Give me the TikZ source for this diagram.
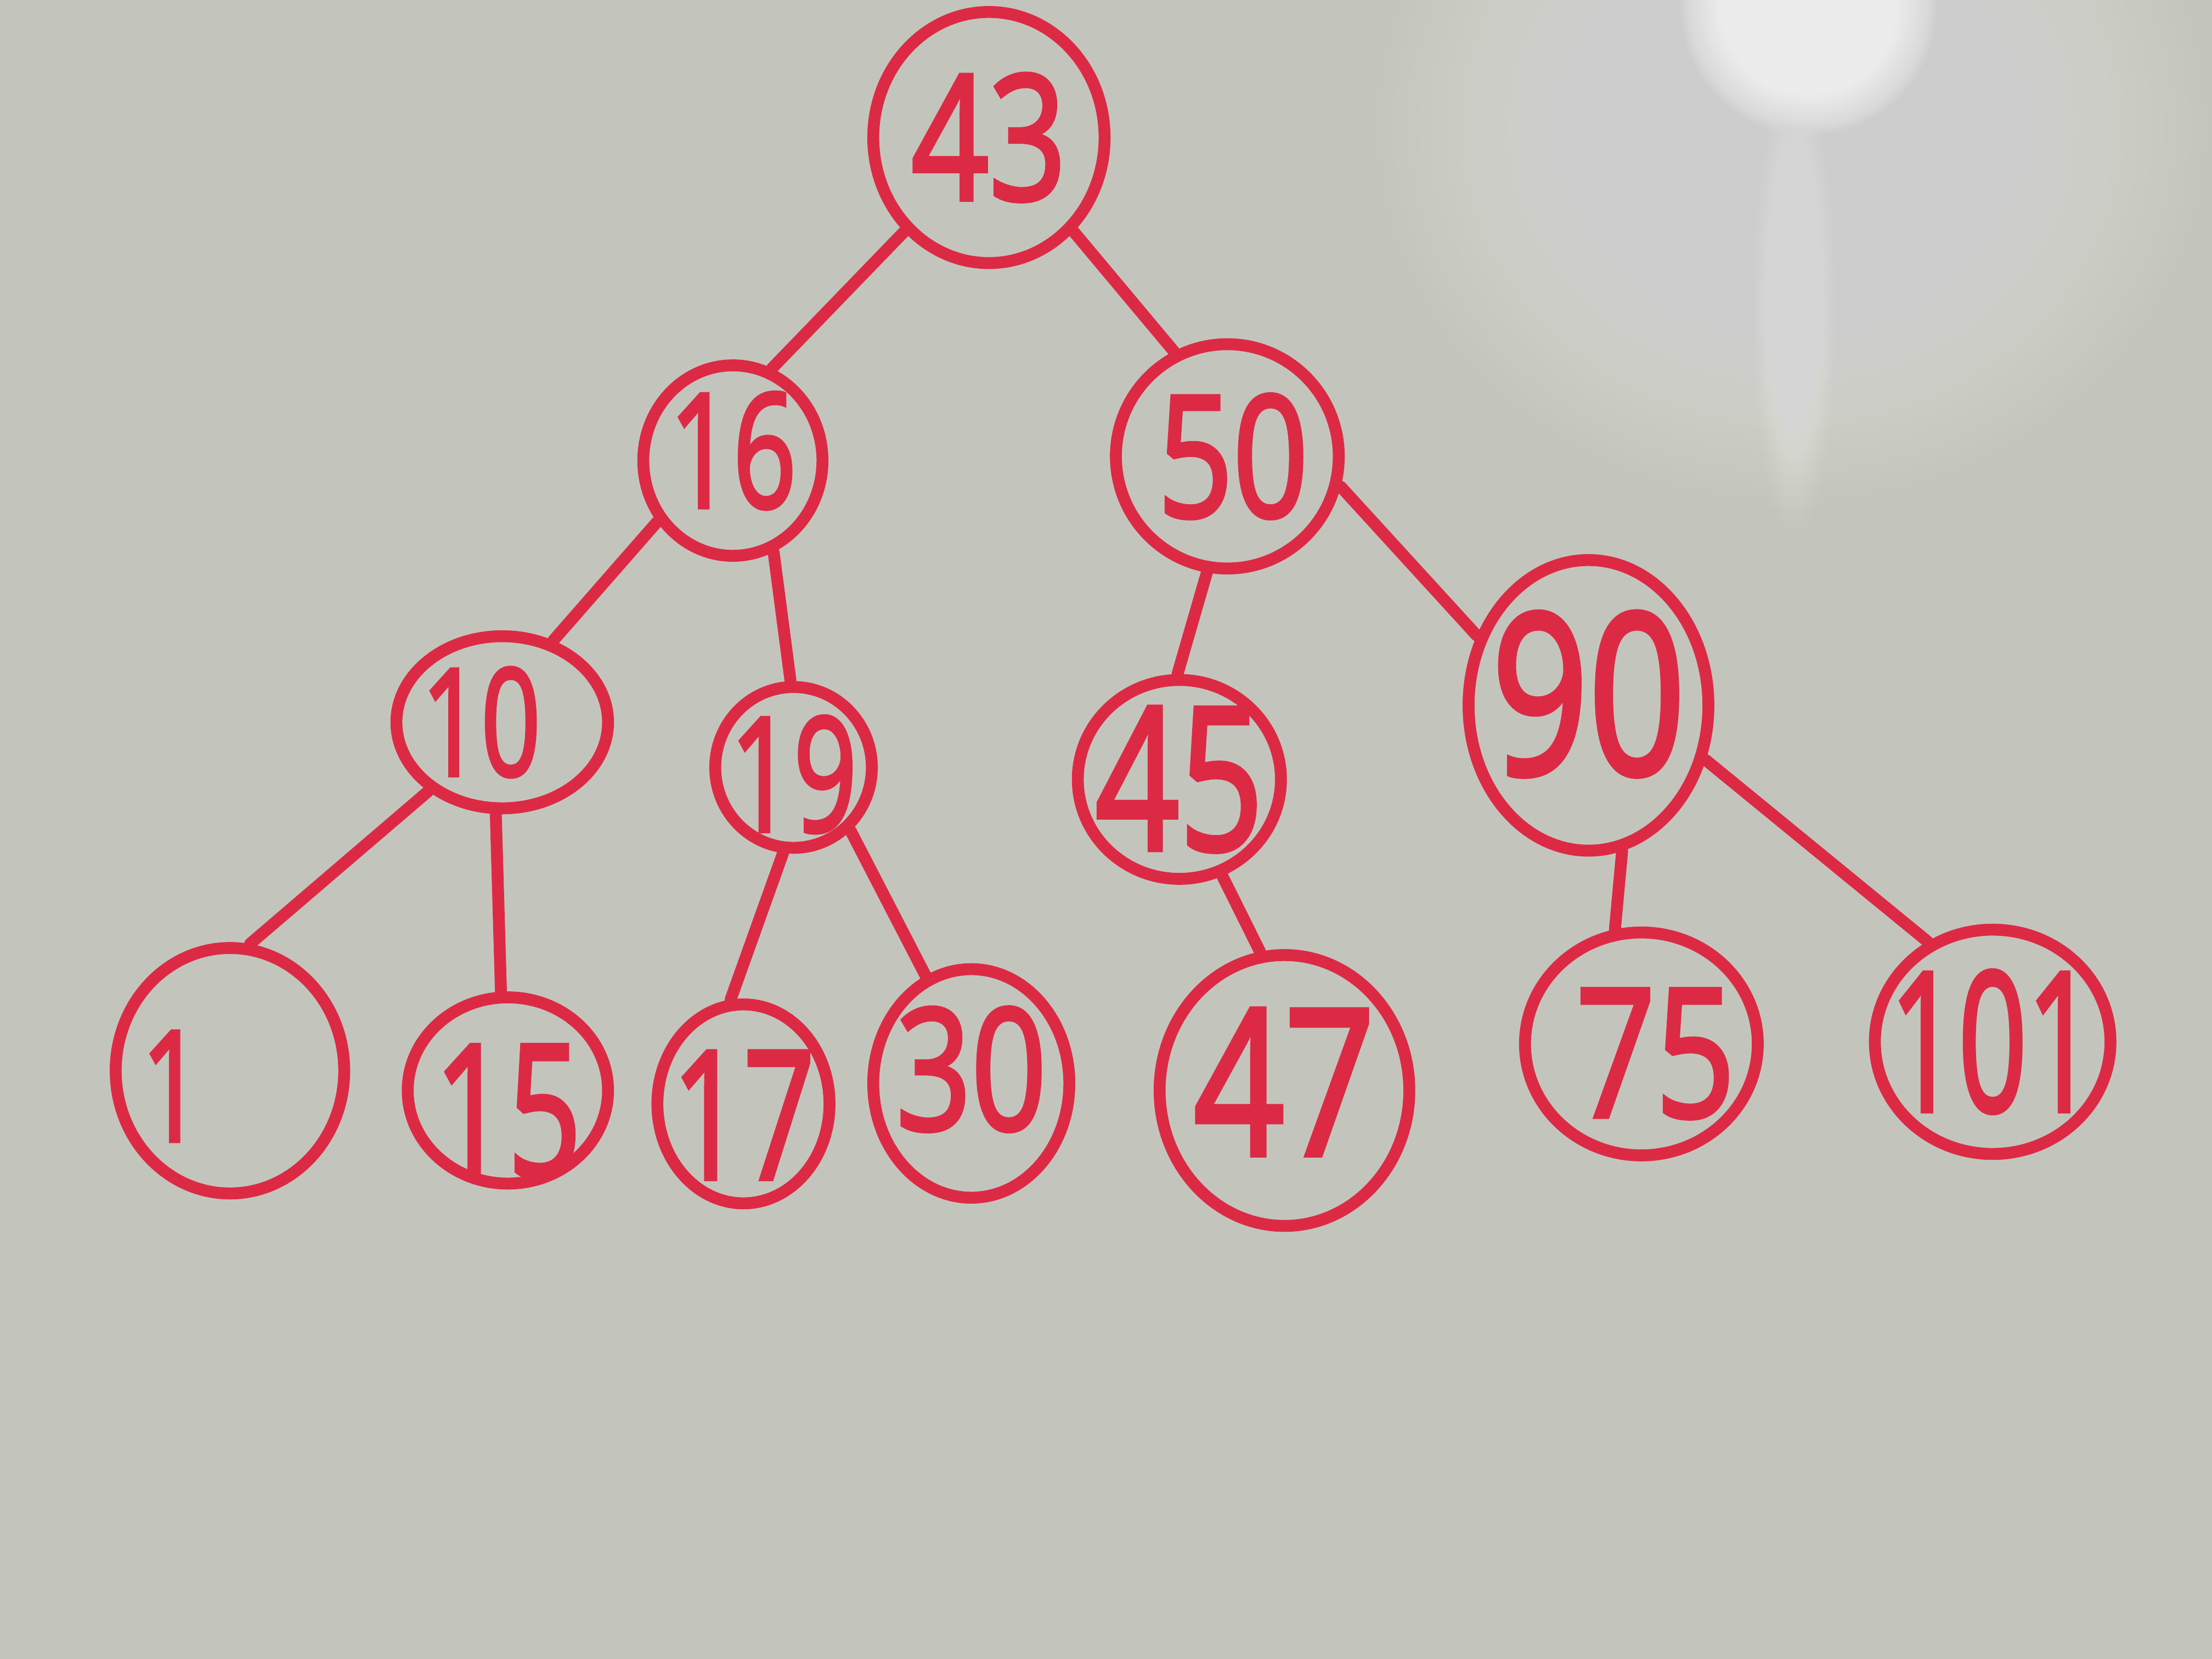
\documentclass[tikz,border=0pt]{standalone}
\usepackage{fontspec}
\setmainfont{Open Sans}
\newfontfamily\markerfont[FakeBold=2.6]{Open Sans}
\usepackage{graphicx}
\usetikzlibrary{shapes.geometric}

\definecolor{marker}{RGB}{221,42,68}
\definecolor{board}{RGB}{195,197,189}

% handwritten-looking figures: narrower than the font's own
\newcommand\hw[2][0.78]{\scalebox{#1}[1]{#2}}
\newcommand\sz[1]{\markerfont\fontsize{#1}{#1}\selectfont}

\tikzset{
  vtx/.style={ellipse, draw=marker, line width=2.4pt, inner sep=0pt},
  num/.style={text=marker, inner sep=0pt},
  edge/.style={draw=marker, line width=2.4pt, line cap=round},
}

\begin{document}
\begin{tikzpicture}
  % whiteboard surface, a little brighter in the middle
  \fill[board] (0,0) rectangle (15.68,-11.76);
  \useasboundingbox (0,0) rectangle (15.68,-11.76);
  \foreach \r in {1,...,30}
    \fill[white, opacity=0.012] (9.5,-4.0) ellipse ({\r*0.36} and {\r*0.26});
  % reflection of the ceiling light
  \foreach \r in {1,...,30}
    \fill[white, opacity=0.02] (12.7,-0.9) ellipse ({0.3+\r*0.09} and {0.3+\r*0.08});
  \foreach \r in {1,...,30}
    \fill[white, opacity=0.05] (12.82,-0.05) ellipse ({0.55+\r*0.012} and {0.55+\r*0.012});
  \foreach \r in {1,...,20}
    \fill[white, opacity=0.025] (12.72,-2.2) ellipse ({0.05+\r*0.012} and {0.6+\r*0.05});

  % root
  \node[vtx, minimum width=1.64cm, minimum height=1.78cm,
        label={[num, font=\sz{35}]center:\hw{43}}] (n43) at (7.01,-0.975) {};
  % second level
  \node[vtx, minimum width=1.27cm, minimum height=1.35cm,
        label={[num, font=\sz{32}, yshift=0.07cm]center:\hw[0.7]{16}}] (n16) at (5.195,-3.265) {};
  \node[vtx, minimum width=1.58cm, minimum height=1.59cm,
        label={[num, font=\sz{34}, xshift=0.04cm]center:\hw{50}}] (n50) at (8.70,-3.235) {};
  % third level
  \node[vtx, minimum width=1.50cm, minimum height=1.22cm,
        label={[num, font=\sz{30}, xshift=-0.15cm]center:\hw[0.7]{10}}] (n10) at (3.56,-5.12) {};
  \node[vtx, minimum width=1.11cm, minimum height=1.14cm,
        label={[num, font=\sz{32}, yshift=-0.05cm]center:\hw[0.7]{19}}] (n19) at (5.625,-5.44) {};
  \node[vtx, minimum width=1.44cm, minimum height=1.41cm,
        label={[num, font=\sz{40}]center:\hw[0.74]{45}}] (n45) at (8.36,-5.525) {};
  \node[vtx, minimum width=1.70cm, minimum height=2.06cm,
        label={[num, font=\sz{45}, yshift=0.08cm]center:\hw[0.76]{90}}] (n90) at (11.26,-5.00) {};
  % leaves
  \node[vtx, minimum width=1.62cm, minimum height=1.74cm,
        label={[num, font=\sz{31}, xshift=-0.41cm, yshift=-0.11cm]center:\hw[0.7]{1}}] (n1) at (1.63,-7.59) {};
  \node[vtx, minimum width=1.42cm, minimum height=1.32cm,
        label={[num, font=\sz{37}, yshift=-0.15cm]center:\hw[0.7]{15}}] (n15) at (3.60,-7.73) {};
  \node[vtx, minimum width=1.22cm, minimum height=1.41cm,
        label={[num, font=\sz{36}, yshift=-0.08cm]center:\hw[0.7]{17}}] (n17) at (5.27,-7.825) {};
  \node[vtx, minimum width=1.39cm, minimum height=1.62cm,
        label={[num, font=\sz{34}, yshift=0.10cm]center:\hw{30}}] (n30) at (6.885,-7.68) {};
  \node[vtx, minimum width=1.77cm, minimum height=1.92cm,
        label={[num, font=\sz{41}, yshift=0.06cm]center:\hw{47}}] (n47) at (9.105,-7.73) {};
  \node[vtx, minimum width=1.65cm, minimum height=1.58cm,
        label={[num, font=\sz{36}, xshift=0.10cm, yshift=-0.07cm]center:\hw{75}}] (n75) at (11.635,-7.40) {};
  \node[vtx, minimum width=1.67cm, minimum height=1.59cm,
        label={[num, font=\sz{39}]center:\hw[0.62]{101}}] (n101) at (14.125,-7.385) {};

  % branches
  \draw[edge] (n43.228) -- (n16.67);
  \draw[edge] (n43.312) -- (n50.117);
  \draw[edge] (n16.219) -- (n10.58);
  \draw[edge] (n16.294) -- (n19.92);
  \draw[edge] (n50.260) -- (n45.91);
  \draw[edge] (n50.345) -- (n90.148);
  \draw[edge] (n10.223) -- (n1.81);
  \draw[edge] (n10.266) -- (n15.94);
  \draw[edge] (n19.263) -- (n17.97);
  \draw[edge] (n19.312) -- (n30.113);
  \draw[edge] (n45.294) -- (n47.100);
  \draw[edge] (n90.283) -- (n75.103);
  \draw[edge] (n90.335) -- (n101.123);
\end{tikzpicture}
\end{document}
